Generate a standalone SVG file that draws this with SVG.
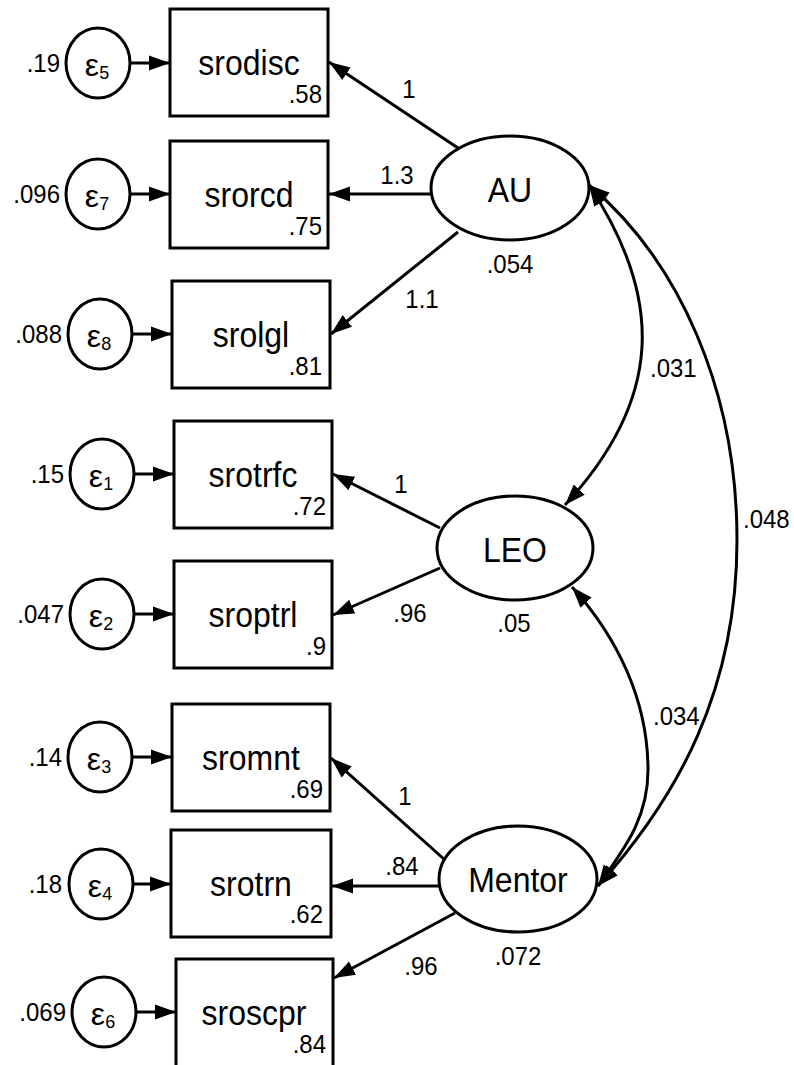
<svg xmlns="http://www.w3.org/2000/svg" width="794" height="1065" viewBox="0 0 794 1065">
<defs>
<style>
text{font-family:"Liberation Sans",Arial,sans-serif;fill:#000}
.box{fill:#fff;stroke:#000;stroke-width:3}
.lat{fill:#fff;stroke:#000;stroke-width:3}
.err{fill:#fff;stroke:#000;stroke-width:3}
.p{stroke:#000;stroke-width:3;fill:none;marker-end:url(#ah)}
.cov{stroke:#000;stroke-width:3;fill:none;marker-start:url(#ah);marker-end:url(#ah)}
.name{font-size:32px;text-anchor:middle}
.num{font-size:24px}
.mid{text-anchor:middle}
.end{text-anchor:end}
.eps{font-size:32px;text-anchor:middle}
.sub{font-size:18px}
</style>
<marker id="ah" markerUnits="userSpaceOnUse" markerWidth="22" markerHeight="16" refX="21" refY="8" orient="auto-start-reverse">
<path d="M0,0.5 L21,8 L0,15.5 z" fill="#000"/>
</marker>
</defs>
<rect width="794" height="1065" fill="#fff"/>

<g id="connectors">
<path class="p" d="M131,63 L170,63"/>
<path class="p" d="M131,194 L170,194"/>
<path class="p" d="M133,334 L172,334"/>
<path class="p" d="M135,474 L174,474"/>
<path class="p" d="M135,614 L174,614"/>
<path class="p" d="M133,757 L172,757"/>
<path class="p" d="M134,884 L171,884"/>
<path class="p" d="M137,1012 L176,1012"/>
<path class="p" d="M458,148 L329,62"/>
<path class="p" d="M431,194 L329,194"/>
<path class="p" d="M458,232 L331,334"/>
<path class="p" d="M440,528 L333,474"/>
<path class="p" d="M440,568 L333,615"/>
<path class="p" d="M445,860 L331,758"/>
<path class="p" d="M439,886 L332,886"/>
<path class="p" d="M455,913 L334,978"/>
<path class="cov" d="M589,185 C665,300 662,400 565,505"/>
<path class="cov" d="M589,185 C679,261 737,390 737,540 C737,690 678,797 598,886"/>
<path class="cov" d="M572,587 C617,637 648,700 648,770 C648,820 623,850 598,886"/>
<text class="num mid" x="409" y="98" transform="matrix(1,0,0,1.1,0,-9.8)">1</text>
<text class="num mid" x="397" y="184" transform="matrix(1,0,0,1.1,0,-18.4)">1.3</text>
<text class="num mid" x="422" y="308" transform="matrix(1,0,0,1.1,0,-30.8)">1.1</text>
<text class="num mid" x="401" y="493" transform="matrix(1,0,0,1.1,0,-49.3)">1</text>
<text class="num mid" x="410" y="622" transform="matrix(1,0,0,1.1,0,-62.2)">.96</text>
<text class="num mid" x="405" y="805" transform="matrix(1,0,0,1.1,0,-80.5)">1</text>
<text class="num mid" x="402" y="875" transform="matrix(1,0,0,1.1,0,-87.5)">.84</text>
<text class="num mid" x="421" y="975" transform="matrix(1,0,0,1.1,0,-97.5)">.96</text>
<text class="num" x="650" y="377" transform="matrix(1,0,0,1.1,0,-37.7)">.031</text>
<text class="num" x="743" y="528" transform="matrix(1,0,0,1.1,0,-52.8)">.048</text>
<text class="num" x="653" y="725" transform="matrix(1,0,0,1.1,0,-72.5)">.034</text>
</g>

<g id="AU">
<ellipse class="lat" cx="510" cy="188" rx="79" ry="52"/>
<text class="name" x="510" y="202" transform="matrix(1,0,0,1.1,0,-20.2)">AU</text>
<text class="num mid" x="510" y="273" transform="matrix(1,0,0,1.1,0,-27.3)">.054</text>
</g>
<g id="LEO">
<ellipse class="lat" cx="515" cy="548" rx="78" ry="52"/>
<text class="name" x="515" y="562" transform="matrix(1,0,0,1.1,0,-56.2)">LEO</text>
<text class="num mid" x="514" y="632" transform="matrix(1,0,0,1.1,0,-63.2)">.05</text>
</g>
<g id="Mentor">
<ellipse class="lat" cx="518" cy="879" rx="79" ry="53"/>
<text class="name" x="518" y="892" transform="matrix(1,0,0,1.1,0,-89.2)">Mentor</text>
<text class="num mid" x="518" y="965" transform="matrix(1,0,0,1.1,0,-96.5)">.072</text>
</g>

<g id="srodisc">
<rect class="box" x="170" y="9" width="158" height="107"/>
<text class="name" x="249" y="75" transform="matrix(1,0,0,1.1,0,-7.5)">srodisc</text>
<text class="num end" x="322" y="103" transform="matrix(1,0,0,1.1,0,-10.3)">.58</text>
</g>
<g id="e5">
<ellipse class="err" cx="98" cy="63" rx="32" ry="35"/>
<text class="eps" x="97" y="76">ε<tspan class="sub" dy="3">5</tspan></text>
<text class="num end" x="60" y="72" transform="matrix(1,0,0,1.1,0,-7.2)">.19</text>
</g>

<g id="srorcd">
<rect class="box" x="170" y="141" width="158" height="107"/>
<text class="name" x="249" y="207" transform="matrix(1,0,0,1.1,0,-20.7)">srorcd</text>
<text class="num end" x="322" y="235" transform="matrix(1,0,0,1.1,0,-23.5)">.75</text>
</g>
<g id="e7">
<ellipse class="err" cx="98" cy="194" rx="32" ry="35"/>
<text class="eps" x="97" y="207">ε<tspan class="sub" dy="3">7</tspan></text>
<text class="num end" x="60" y="203" transform="matrix(1,0,0,1.1,0,-20.3)">.096</text>
</g>

<g id="srolgl">
<rect class="box" x="172" y="281" width="158" height="107"/>
<text class="name" x="251" y="347" transform="matrix(1,0,0,1.1,0,-34.7)">srolgl</text>
<text class="num end" x="322" y="375" transform="matrix(1,0,0,1.1,0,-37.5)">.81</text>
</g>
<g id="e8">
<ellipse class="err" cx="100" cy="334" rx="32" ry="35"/>
<text class="eps" x="99" y="347">ε<tspan class="sub" dy="3">8</tspan></text>
<text class="num end" x="62" y="343" transform="matrix(1,0,0,1.1,0,-34.3)">.088</text>
</g>

<g id="srotrfc">
<rect class="box" x="174" y="421" width="158" height="107"/>
<text class="name" x="253" y="487" transform="matrix(1,0,0,1.1,0,-48.7)">srotrfc</text>
<text class="num end" x="326" y="515" transform="matrix(1,0,0,1.1,0,-51.5)">.72</text>
</g>
<g id="e1">
<ellipse class="err" cx="102" cy="474" rx="32" ry="35"/>
<text class="eps" x="101" y="487">ε<tspan class="sub" dy="3">1</tspan></text>
<text class="num end" x="64" y="483" transform="matrix(1,0,0,1.1,0,-48.3)">.15</text>
</g>

<g id="sroptrl">
<rect class="box" x="174" y="561" width="158" height="107"/>
<text class="name" x="253" y="627" transform="matrix(1,0,0,1.1,0,-62.7)">sroptrl</text>
<text class="num end" x="326" y="655" transform="matrix(1,0,0,1.1,0,-65.5)">.9</text>
</g>
<g id="e2">
<ellipse class="err" cx="102" cy="614" rx="32" ry="35"/>
<text class="eps" x="101" y="627">ε<tspan class="sub" dy="3">2</tspan></text>
<text class="num end" x="64" y="623" transform="matrix(1,0,0,1.1,0,-62.3)">.047</text>
</g>

<g id="sromnt">
<rect class="box" x="172" y="704" width="158" height="107"/>
<text class="name" x="251" y="770" transform="matrix(1,0,0,1.1,0,-77)">sromnt</text>
<text class="num end" x="323" y="798" transform="matrix(1,0,0,1.1,0,-79.8)">.69</text>
</g>
<g id="e3">
<ellipse class="err" cx="100" cy="757" rx="32" ry="35"/>
<text class="eps" x="99" y="770">ε<tspan class="sub" dy="3">3</tspan></text>
<text class="num end" x="62" y="766" transform="matrix(1,0,0,1.1,0,-76.6)">.14</text>
</g>

<g id="srotrn">
<rect class="box" x="171" y="830" width="160" height="107"/>
<text class="name" x="251" y="896" transform="matrix(1,0,0,1.1,0,-89.6)">srotrn</text>
<text class="num end" x="323" y="923" transform="matrix(1,0,0,1.1,0,-92.3)">.62</text>
</g>
<g id="e4">
<ellipse class="err" cx="101" cy="884" rx="32" ry="35"/>
<text class="eps" x="100" y="897">ε<tspan class="sub" dy="3">4</tspan></text>
<text class="num end" x="62" y="893" transform="matrix(1,0,0,1.1,0,-89.3)">.18</text>
</g>

<g id="sroscpr">
<rect class="box" x="176" y="959" width="157" height="110"/>
<text class="name" x="254" y="1025" transform="matrix(1,0,0,1.1,0,-102.5)">sroscpr</text>
<text class="num end" x="326" y="1053" transform="matrix(1,0,0,1.1,0,-105.3)">.84</text>
</g>
<g id="e6">
<ellipse class="err" cx="104" cy="1012" rx="32" ry="35"/>
<text class="eps" x="103" y="1025">ε<tspan class="sub" dy="3">6</tspan></text>
<text class="num end" x="66" y="1021" transform="matrix(1,0,0,1.1,0,-102.1)">.069</text>
</g>
</svg>
